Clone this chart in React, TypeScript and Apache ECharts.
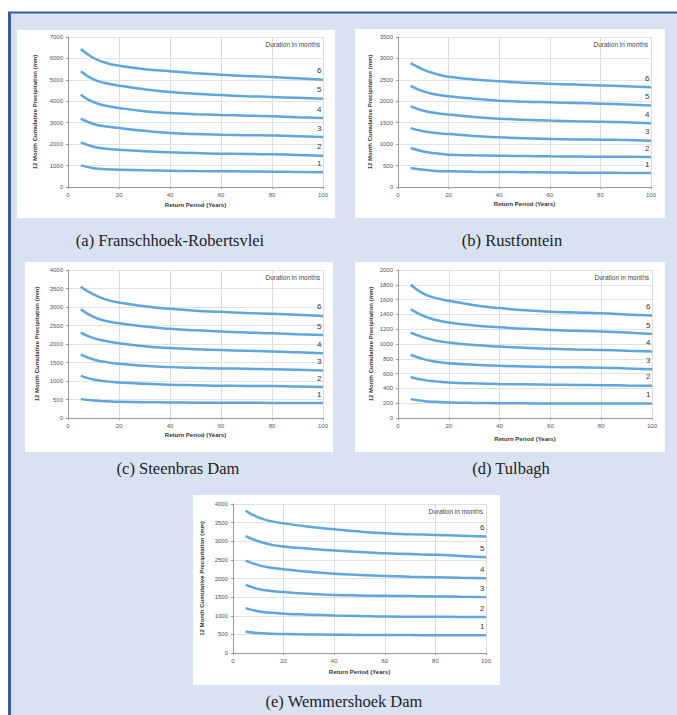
import React, { useEffect, useRef } from "react";
import * as echarts from "echarts";

const returnPeriods = [5, 10, 15, 20, 30, 40, 50, 60, 70, 80, 90, 100];
const durations = ["1", "2", "3", "4", "5", "6"];

const franschhoek = [
  [1010, 880, 830, 810, 780, 760, 745, 735, 725, 715, 700, 685],
  [2080, 1880, 1790, 1740, 1670, 1620, 1585, 1555, 1540, 1525, 1495, 1460],
  [3190, 2940, 2820, 2750, 2620, 2520, 2470, 2440, 2420, 2400, 2370, 2330],
  [4310, 3960, 3790, 3690, 3540, 3450, 3400, 3360, 3330, 3300, 3260, 3220],
  [5400, 5020, 4840, 4730, 4560, 4430, 4350, 4290, 4240, 4200, 4160, 4120],
  [6440, 6020, 5790, 5660, 5500, 5400, 5310, 5240, 5180, 5130, 5070, 5010],
];
const rustfontein = [
  [445, 400, 375, 365, 355, 350, 345, 340, 335, 332, 328, 325],
  [910, 830, 785, 755, 740, 730, 722, 715, 710, 707, 704, 700],
  [1375, 1300, 1260, 1235, 1190, 1160, 1135, 1120, 1110, 1105, 1095, 1080],
  [1880, 1780, 1725, 1690, 1635, 1595, 1570, 1550, 1535, 1525, 1510, 1490],
  [2360, 2230, 2160, 2115, 2060, 2015, 1990, 1975, 1960, 1945, 1925, 1900],
  [2890, 2740, 2640, 2570, 2510, 2465, 2435, 2410, 2390, 2370, 2350, 2330],
];
const steenbras = [
  [510, 470, 450, 440, 428, 420, 415, 412, 410, 408, 406, 405],
  [1140, 1040, 990, 960, 925, 900, 885, 870, 868, 865, 850, 835],
  [1710, 1580, 1510, 1465, 1410, 1375, 1355, 1340, 1330, 1320, 1305, 1285],
  [2310, 2160, 2080, 2020, 1940, 1890, 1860, 1835, 1815, 1800, 1775, 1750],
  [2940, 2730, 2620, 2560, 2470, 2410, 2370, 2340, 2310, 2290, 2265, 2240],
  [3550, 3340, 3200, 3120, 3020, 2950, 2900, 2870, 2840, 2815, 2790, 2760],
];
const tulbagh = [
  [255, 230, 218, 210, 204, 200, 198, 197, 196, 196, 195, 195],
  [555, 515, 495, 480, 468, 460, 455, 450, 447, 444, 440, 435],
  [855, 795, 760, 740, 720, 705, 697, 690, 685, 680, 670, 660],
  [1155, 1090, 1045, 1020, 985, 965, 948, 935, 927, 920, 910, 900],
  [1470, 1380, 1325, 1290, 1250, 1225, 1205, 1190, 1180, 1170, 1155, 1135],
  [1800, 1680, 1620, 1585, 1525, 1485, 1455, 1435, 1425, 1415, 1400, 1385],
];
const wemmershoek = [
  [570, 535, 520, 510, 498, 490, 485, 482, 480, 478, 476, 475],
  [1205, 1120, 1080, 1055, 1030, 1010, 995, 980, 975, 972, 968, 965],
  [1830, 1720, 1665, 1635, 1590, 1560, 1545, 1535, 1527, 1520, 1510, 1500],
  [2480, 2360, 2290, 2250, 2180, 2125, 2095, 2070, 2050, 2035, 2020, 2010],
  [3140, 3000, 2910, 2860, 2800, 2750, 2710, 2680, 2655, 2635, 2605, 2570],
  [3820, 3640, 3540, 3480, 3390, 3320, 3260, 3215, 3190, 3170, 3150, 3125],
];

const captions = [
  "(a) Franschhoek-Robertsvlei",
  "(b) Rustfontein",
  "(c) Steenbras Dam",
  "(d) Tulbagh",
  "(e) Wemmershoek Dam",
];
const yMaxes = [7000, 3500, 4000, 2000, 4000];
const yIntervals = [1000, 500, 500, 200, 500];
const siteData = [franschhoek, rustfontein, steenbras, tulbagh, wemmershoek];

// layout (pixels)
const boxes = [
  { x: 17, y: 30, w: 318, h: 188 },
  { x: 355, y: 29, w: 310, h: 189 },
  { x: 25, y: 262, w: 308, h: 190 },
  { x: 355, y: 262, w: 310, h: 190 },
  { x: 193, y: 495, w: 307, h: 190 },
];
const grids = [
  { left: 68, top: 37, width: 255, height: 150, yGap: 30, xGap: 15 },
  { left: 398, top: 37, width: 253, height: 150, yGap: 25, xGap: 14 },
  { left: 68, top: 270, width: 255, height: 148, yGap: 28, xGap: 14 },
  { left: 398, top: 270, width: 254, height: 148, yGap: 24, xGap: 18 },
  { left: 233, top: 504, width: 253, height: 149, yGap: 28, xGap: 16 },
];
const captionPos = [
  { x: 170, y: 240 },
  { x: 512, y: 240 },
  { x: 178, y: 468 },
  { x: 511, y: 468 },
  { x: 344, y: 701 },
];

const LINE_COLOR = "#5ea6dc";
const SANS = "Liberation Sans, Arial, sans-serif";
const SERIF = "Liberation Serif, Times New Roman, serif";

export default function App() {
  const ref = useRef<HTMLDivElement>(null);
  useEffect(() => {
    if (!ref.current) return;
    const chart = echarts.init(ref.current, undefined, { renderer: "svg" });

    const graphic: any[] = [
      { type: "rect", shape: { x: 8, y: 12, width: 680, height: 710 }, style: { fill: "#d9e2f3" }, z: -10 },
      { type: "line", shape: { x1: 8, y1: 12.5, x2: 677, y2: 12.5 }, style: { stroke: "#3a5ca8", lineWidth: 2 }, z: -9 },
      { type: "line", shape: { x1: 9.5, y1: 12, x2: 9.5, y2: 715 }, style: { stroke: "#3a5ca8", lineWidth: 3 }, z: -9 },
    ];
    boxes.forEach((b) => {
      graphic.push({ type: "rect", shape: { x: b.x, y: b.y, width: b.w, height: b.h }, style: { fill: "#ffffff" }, z: -8 });
    });
    captions.forEach((c, i) => {
      graphic.push({
        type: "text",
        x: captionPos[i].x,
        y: captionPos[i].y,
        style: { text: c, fill: "#222222", font: `16.5px ${SERIF}`, align: "center", verticalAlign: "middle" },
      });
    });
    grids.forEach((g) => {
      graphic.push({
        type: "text",
        x: g.left + g.width - 3,
        y: g.top + 7,
        style: { text: "Duration in months", fill: "#444444", font: `6.5px ${SANS}`, align: "right", verticalAlign: "middle" },
        z: 10,
      });
    });

    const gridOpts = grids.map((g) => ({ left: g.left, top: g.top, width: g.width, height: g.height, show: false }));
    const xAxes = grids.map((g, i) => ({
      type: "value",
      gridIndex: i,
      min: 0,
      max: 100,
      interval: 20,
      name: "Return Period (Years)",
      nameLocation: "middle",
      nameGap: g.xGap,
      nameTextStyle: { fontSize: 6, fontWeight: "bold", color: "#333", fontFamily: SANS },
      axisLine: { lineStyle: { color: "#999", width: 1 } },
      axisTick: { show: true, length: 2, lineStyle: { color: "#999" } },
      axisLabel: { fontSize: 6, color: "#555", margin: 5, fontFamily: SANS, formatter: (v: number) => String(v) },
      splitLine: { show: true, lineStyle: { color: "#dcdcdc", width: 1 } },
    }));
    const yAxes = grids.map((g, i) => ({
      type: "value",
      gridIndex: i,
      min: 0,
      max: yMaxes[i],
      interval: yIntervals[i],
      name: "12 Month Cumulative Precipitation (mm)",
      nameLocation: "middle",
      nameGap: g.yGap,
      nameTextStyle: { fontSize: 6, fontWeight: "bold", color: "#333", fontFamily: SANS },
      axisLine: { show: true, lineStyle: { color: "#999", width: 1 } },
      axisTick: { show: true, length: 2, lineStyle: { color: "#999" } },
      axisLabel: { fontSize: 6, color: "#555", margin: 5, fontFamily: SANS, formatter: (v: number) => String(v) },
      splitLine: { show: true, lineStyle: { color: "#e2e2e2", width: 1 } },
    }));
    const series: any[] = [];
    siteData.forEach((site, i) => {
      site.forEach((vals, d) => {
        series.push({
          type: "line",
          name: durations[d],
          xAxisIndex: i,
          yAxisIndex: i,
          data: vals.map((v, k) => [returnPeriods[k], v]),
          smooth: true,
          showSymbol: false,
          lineStyle: { color: LINE_COLOR, width: 2.5 },
          itemStyle: { color: LINE_COLOR },
          endLabel: {
            show: true,
            formatter: durations[d],
            fontSize: 8,
            color: "#333",
            fontFamily: SANS,
            offset: [-14, -9],
          },
          emphasis: { disabled: true },
        });
      });
    });

    chart.setOption({
      animation: false,
      backgroundColor: "#ffffff",
      grid: gridOpts,
      xAxis: xAxes,
      yAxis: yAxes,
      series,
      graphic,
    });
    return () => chart.dispose();
  }, []);
  return (
    <div
      ref={ref}
      style={{ position: "absolute", left: 0, top: 0, width: 677, height: 715 }}
    />
  );
}
